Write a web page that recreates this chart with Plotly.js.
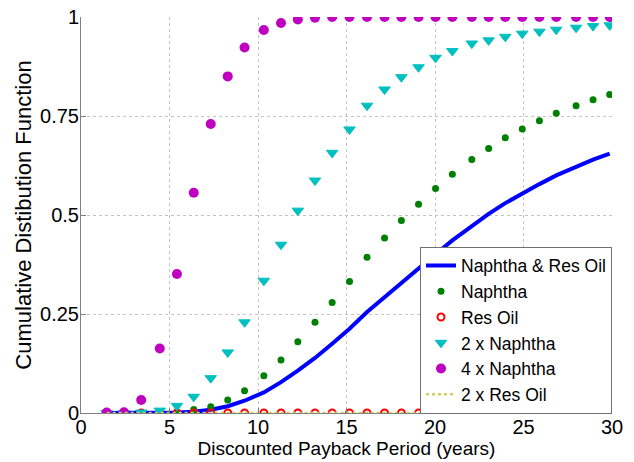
<!DOCTYPE html>
<html>
<head>
<meta charset="utf-8">
<script src="https://cdn.plot.ly/plotly-3.0.1.min.js"></script>
<style>html,body{margin:0;padding:0;background:#fff;}#chart{width:634px;height:462px;}</style>
</head>
<body>
<div id="chart"></div>
<script>
// Discounted payback period (years) at which each CDF value was sampled
var payback = [1.45, 2.43, 3.40, 4.45, 5.42, 6.37, 7.33, 8.29, 9.24, 10.33,
               11.30, 12.25, 13.22, 14.19, 15.17, 16.16, 17.15, 18.10, 19.07, 20.03,
               20.98, 22.08, 23.03, 23.97, 24.93, 25.90, 26.85, 27.97, 28.93, 29.87];

var naphthaResOil = [0, 0, 0, 0.0005, 0.001, 0.003, 0.008, 0.017, 0.031, 0.052,
                     0.078, 0.107, 0.139, 0.175, 0.213, 0.255, 0.293, 0.330, 0.366, 0.401,
                     0.436, 0.473, 0.503, 0.530, 0.555, 0.578, 0.600, 0.622, 0.640, 0.655];

var naphtha = [0, 0, 0, 0.001, 0.003, 0.009, 0.016, 0.033, 0.056, 0.094,
               0.134, 0.180, 0.229, 0.279, 0.332, 0.393, 0.442, 0.486, 0.527, 0.567,
               0.603, 0.640, 0.668, 0.695, 0.717, 0.738, 0.757, 0.776, 0.791, 0.804];

var resOil = [0, 0, 0, 0, 0, 0, 0, 0, 0, 0,
              0, 0, 0, 0, 0, 0, 0, 0, 0, 0,
              0, 0, 0, 0, 0, 0, 0, 0, 0, 0];

var naphtha2x = [0, 0, 0.001, 0.006, 0.018, 0.041, 0.088, 0.153, 0.229, 0.334,
                 0.425, 0.511, 0.587, 0.657, 0.716, 0.776, 0.817, 0.848, 0.873, 0.897,
                 0.914, 0.933, 0.941, 0.950, 0.958, 0.963, 0.968, 0.973, 0.977, 0.979];

var naphtha4x = [0.001, 0.002, 0.033, 0.163, 0.351, 0.556, 0.730, 0.850, 0.923, 0.967,
                 0.985, 0.994, 0.998, 1, 1, 1, 1, 1, 1, 1,
                 1, 1, 1, 1, 1, 1, 1, 1, 1, 1];

var resOil2x = [0, 0, 0, 0, 0, 0, 0, 0, 0, 0,
                0, 0, 0, 0, 0, 0, 0, 0, 0, 0,
                0, 0, 0, 0, 0, 0, 0, 0, 0, 0];

var seriesNames = ['Naphtha & Res Oil', 'Naphtha', 'Res Oil', '2 x Naphtha', '4 x Naphtha', '2 x Res Oil'];

var xTicks = [0, 5, 10, 15, 20, 25, 30];
var xTickText = ['0', '5', '10', '15', '20', '25', '30'];
var yTicks = [0, 0.25, 0.5, 0.75, 1];
var yTickText = ['0', '0.25', '0.5', '0.75', '1'];

var FONT = 'Liberation Sans, Arial, Helvetica, sans-serif';

var traces = [
  {x: payback, y: naphthaResOil, name: seriesNames[0], type: 'scatter', mode: 'lines',
   line: {color: '#0000ff', width: 4}},
  {x: payback, y: naphtha, name: seriesNames[1], type: 'scatter', mode: 'markers',
   marker: {symbol: 'circle', color: '#008000', size: 7}},
  {x: payback, y: resOil, name: seriesNames[2], type: 'scatter', mode: 'markers',
   marker: {symbol: 'circle-open', color: '#ff0000', size: 7, line: {width: 2, color: '#ff0000'}}},
  {x: payback, y: naphtha2x, name: seriesNames[3], type: 'scatter', mode: 'markers',
   marker: {symbol: 'triangle-down', color: '#00bfbf', size: 10, line: {width: 1, color: '#00bfbf'}}},
  {x: payback, y: naphtha4x, name: seriesNames[4], type: 'scatter', mode: 'markers',
   marker: {symbol: 'circle', color: '#c000c0', size: 10}},
  {x: payback, y: resOil2x, name: seriesNames[5], type: 'scatter', mode: 'lines',
   line: {color: '#d0d060', width: 2.5, dash: 'dot'}}
];

var layout = {
  width: 634, height: 462,
  margin: {l: 81, r: 22, t: 17, b: 49, pad: 0},
  paper_bgcolor: '#ffffff', plot_bgcolor: '#ffffff',
  font: {family: FONT, size: 20, color: '#000000'},
  showlegend: true,
  legend: {
    x: 1, xanchor: 'right', y: 0.42, yanchor: 'top',
    bgcolor: '#ffffff', bordercolor: '#707070', borderwidth: 1,
    font: {family: FONT, size: 17.5, color: '#000000'},
    tracegroupgap: 0, itemwidth: 30
  },
  xaxis: {
    range: [0, 30], tickvals: xTicks, ticktext: xTickText,
    showgrid: true, gridcolor: '#c4c4c4', griddash: 'dot', gridwidth: 1,
    zeroline: false, showline: true, linecolor: '#808080', linewidth: 1,
    ticks: 'inside', ticklen: 5, tickcolor: '#808080',
    ticklabelstandoff: -4,
    tickfont: {family: FONT, size: 20, color: '#000000'},
    title: {text: 'Discounted Payback Period (years)', font: {family: FONT, size: 19, color: '#000000'}, standoff: 1},
    automargin: false, fixedrange: true
  },
  yaxis: {
    range: [0, 1], tickvals: yTicks, ticktext: yTickText,
    showgrid: true, gridcolor: '#c4c4c4', griddash: 'dot', gridwidth: 1,
    zeroline: false, showline: true, linecolor: '#808080', linewidth: 1,
    ticks: 'inside', ticklen: 5, tickcolor: '#808080',
    ticklabelstandoff: -3,
    tickfont: {family: FONT, size: 20, color: '#000000'},
    title: {text: 'Cumulative Distibution Function', font: {family: FONT, size: 22, color: '#000000'}, standoff: 2},
    automargin: false, fixedrange: true
  }
};

Plotly.newPlot('chart', traces, layout, {displayModeBar: false, staticPlot: true});
</script>
</body>
</html>
